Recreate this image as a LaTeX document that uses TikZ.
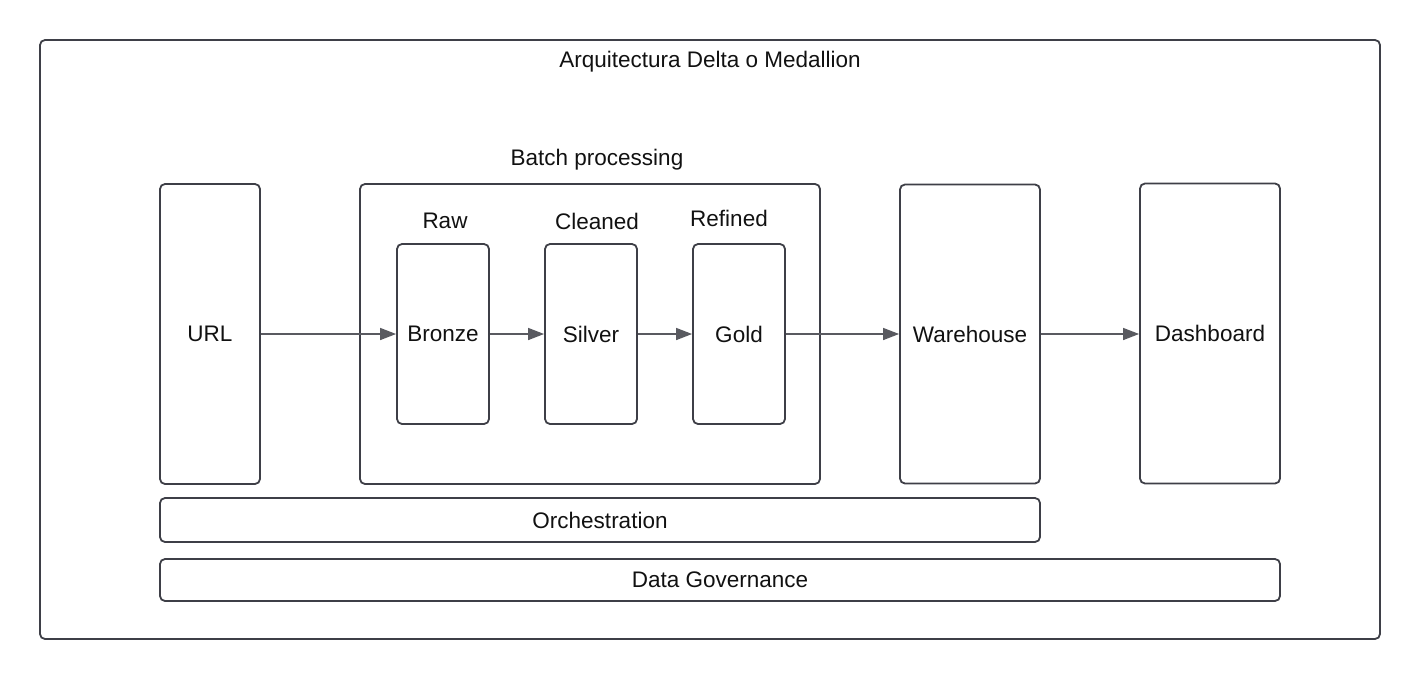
\documentclass[tikz,border=0pt]{standalone}
\usepackage{fontspec}
\setmainfont{Liberation Sans}
\usetikzlibrary{arrows.meta}
\definecolor{bord}{HTML}{3E3F47}
\definecolor{arrc}{HTML}{595A60}
\definecolor{txt}{HTML}{111111}
\begin{document}
\begin{tikzpicture}[x=1pt,y=-1pt,
  box/.style={draw=bord,line width=1.8pt,rounded corners=5pt,inner sep=0pt,text=txt,font=\fontsize{22.5}{26}\selectfont},
  lbl/.style={text=txt,inner sep=0pt,font=\fontsize{22.5}{26}\selectfont},
  arr/.style={draw=arrc,line width=1.4pt,-{Triangle[length=16pt,width=12pt]}}]
\useasboundingbox (0,0) rectangle (1420,680);
\node[box,minimum width=1340pt,minimum height=599pt] (outer) at (710,339.5) {};
\node[lbl] (title) at (710,62) {Arquitectura Delta o Medallion};
\node[lbl] (batchlbl) at (597,160) {Batch processing};
\node[box,minimum width=100pt,minimum height=300pt] (url) at (210,334) {URL};
\node[box,minimum width=460pt,minimum height=300pt] (batch) at (590,334) {};
\node[box,minimum width=92pt,minimum height=180pt] (bronze) at (443,334) {Bronze};
\node[box,minimum width=92pt,minimum height=180pt] (silver) at (591,334) {Silver};
\node[box,minimum width=92pt,minimum height=180pt] (gold) at (739,334) {Gold};
\node[lbl] (raw) at (445,221) {Raw};
\node[lbl] (cleaned) at (597,221) {Cleaned};
\node[lbl] (refined) at (729,218) {Refined};
\node[box,minimum width=140pt,minimum height=299pt] (wh) at (970,334) {Warehouse};
\node[box,minimum width=140pt,minimum height=300pt] (dash) at (1210,333.5) {Dashboard};
\node[box,minimum width=880pt,minimum height=44pt] (orch) at (600,520) {Orchestration};
\node[box,minimum width=1120pt,minimum height=42pt] (gov) at (720,580) {Data Governance};
\draw[arr] (url.east) -- (bronze.west);
\draw[arr] (bronze.east) -- (silver.west);
\draw[arr] (silver.east) -- (gold.west);
\draw[arr] (gold.east) -- (wh.west);
\draw[arr] (wh.east) -- (wh.east -| dash.west);
\end{tikzpicture}
\end{document}
